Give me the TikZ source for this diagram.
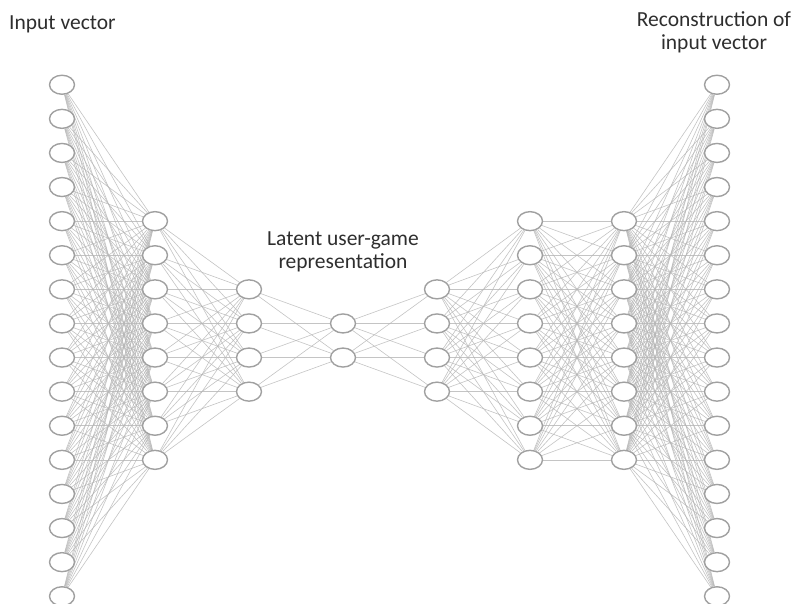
\documentclass[tikz,border=0pt]{standalone}
\usepackage{fontspec}
\setmainfont{Carlito}
\usetikzlibrary{shapes.geometric}
\pgfdeclarelayer{background}
\pgfsetlayers{background,main}
\definecolor{txtgray}{HTML}{2E2E2E}
\definecolor{ringgray}{HTML}{A0A0A0}
\definecolor{edgegray}{HTML}{B5B5B5}
\tikzset{
  neuron/.style={ellipse, draw=ringgray, fill=white, line width=1.4pt, minimum width=25pt, minimum height=19pt, inner sep=0pt},
  conn/.style={draw=edgegray, line width=0.6pt, opacity=0.8},
  lbl/.style={text=txtgray, font=\fontsize{21.5}{23}\selectfont, inner sep=0pt}
}
\begin{document}
\begin{tikzpicture}[x=1pt,y=-1pt]
\useasboundingbox (0,0) rectangle (797,604);
\foreach \l/\x/\n in {1/62/16,2/155/8,3/249/4,4/343/2,5/437/4,6/530/8,7/624/8,8/717/16} {
  \foreach \i in {1,...,\n} {
    \node[neuron] (n\l-\i) at (\x, {340.5 + (\i - (\n+1)/2)*34.1}) {};
  }
}
\begin{pgfonlayer}{background}
\foreach \a/\b/\p/\q in {1/2/16/8,2/3/8/4,3/4/4/2,4/5/2/4,5/6/4/8,6/7/8/8,7/8/8/16} {
  \foreach \i in {1,...,\p} {
    \foreach \j in {1,...,\q} {
      \draw[conn] (n\a-\i) -- (n\b-\j);
    }
  }
}
\end{pgfonlayer}
\node[lbl, anchor=west] (t1) at (9,24) {Input vector};
\node[lbl, align=center] (t2) at (714,32) {Reconstruction of\\input vector};
\node[lbl, align=center] (t3) at (343,252) {Latent user-game\\representation};
\end{tikzpicture}
\end{document}
